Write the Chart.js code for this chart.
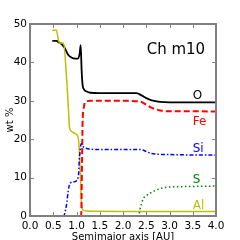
<!DOCTYPE html>
<html>
<head>
<meta charset="utf-8">
<script src="https://cdn.jsdelivr.net/npm/chart.js@4/dist/chart.umd.min.js"></script>
<style>
  html, body { margin: 0; padding: 0; background: #fff; }
  #c { display: block; }
</style>
</head>
<body>
<canvas id="c" width="240" height="240"></canvas>
<script>
// chart of wt % vs semimajor axis, case "Ch m10"

Chart.defaults.font.family = "'DejaVu Sans', sans-serif";
Chart.defaults.font.size = 10;
Chart.defaults.color = '#000';

const xTicks = [0.0, 0.5, 1.0, 1.5, 2.0, 2.5, 3.0, 3.5, 4.0];
const yTicks = [0, 10, 20, 30, 40, 50];

// O (black, solid)
const oX = [0.48, 0.57, 0.62, 0.66, 0.75, 0.82, 0.90, 0.97, 1.03, 1.07, 1.09, 1.11, 1.13, 1.16, 1.22, 1.30, 1.5, 2.0, 2.29, 2.4, 2.5, 2.6, 2.7, 2.8, 3.0, 3.5, 4.0];
const oY = [45.6, 45.6, 45.2, 45.0, 43.7, 42.0, 41.2, 41.0, 41.0, 42.5, 44.5, 38.0, 34.2, 33.0, 32.4, 32.1, 32.0, 32.0, 32.0, 31.4, 30.7, 30.2, 29.9, 29.7, 29.6, 29.6, 29.6];

// Fe (red, dashed)
const feX = [0.5, 1.10, 1.12, 1.13, 1.16, 1.20, 1.30, 2.0, 2.37, 2.5, 2.6, 2.7, 2.8, 2.94, 3.5, 4.0];
const feY = [0, 0, 15, 24, 28.5, 29.8, 30.0, 30.0, 29.8, 29.0, 28.3, 27.8, 27.5, 27.3, 27.3, 27.2];

// Si (blue, dash-dot)
const siX = [0.5, 0.72, 0.75, 0.79, 0.82, 0.86, 0.95, 1.04, 1.06, 1.08, 1.10, 1.15, 1.25, 1.5, 2.0, 2.37, 2.5, 2.6, 2.72, 3.0, 3.5, 4.0];
const siY = [0, 0, 0.8, 3.3, 6.3, 8.5, 8.9, 10.2, 14.6, 17.2, 18.8, 18.0, 17.5, 17.3, 17.3, 17.3, 16.8, 16.3, 16.1, 16.0, 15.9, 15.9];

// S (green, dotted)
const sX = [0.5, 2.33, 2.38, 2.44, 2.5, 2.58, 2.72, 2.94, 3.15, 3.5, 4.0];
const sY = [0, 0, 2.5, 4.6, 5.3, 5.9, 6.8, 7.5, 7.6, 7.7, 7.8];

// Al (olive yellow, solid)
const alX = [0.48, 0.57, 0.60, 0.63, 0.72, 0.79, 0.83, 0.85, 0.88, 0.93, 0.98, 1.02, 1.05, 1.08, 1.10, 1.12, 1.16, 1.22, 2.0, 3.0, 4.0];
const alY = [48.4, 48.4, 46.5, 45.1, 45.0, 35.4, 27.0, 23.0, 22.2, 21.7, 21.4, 21.0, 19.0, 12.0, 5.0, 2.0, 1.4, 1.3, 1.2, 1.2, 1.2];

// in-plot text, data coordinates
const seriesLabels = [
  { text: 'O',  x: 3.5, y: 31.3, color: '#000000' },
  { text: 'Fe', x: 3.5, y: 24.4, color: '#ff0000' },
  { text: 'Si', x: 3.5, y: 17.5, color: '#0000ff' },
  { text: 'S',  x: 3.5, y: 9.3,  color: '#008000' },
  { text: 'Al', x: 3.5, y: 2.6,  color: '#bfbf00' },
];
const caseLabel = { text: 'Ch m10', x: 2.51, y: 43.2 };

function pts(xs, ys) {
  return xs.map((x, i) => ({ x, y: ys[i] }));
}

function line(xs, ys, color, dash, width) {
  return {
    data: pts(xs, ys),
    borderColor: color,
    borderWidth: width || 1.5,
    borderDash: dash || [],
    pointRadius: 0,
    fill: false,
    cubicInterpolationMode: 'monotone',
  };
}

const frameAndText = {
  id: 'frameAndText',
  afterDatasetsDraw(chart) {
    const { ctx, chartArea: a, scales } = chart;
    const xs = scales.x, ys = scales.y;
    ctx.save();
    ctx.strokeStyle = '#808080';
    ctx.lineWidth = 1;
    const tl = 4;
    ctx.beginPath();
    xTicks.forEach(v => {
      const px = Math.round(xs.getPixelForValue(v)) + 0.5;
      ctx.moveTo(px, a.bottom); ctx.lineTo(px, a.bottom - tl);
      ctx.moveTo(px, a.top); ctx.lineTo(px, a.top + tl);
    });
    yTicks.forEach(v => {
      const py = Math.round(ys.getPixelForValue(v)) + 0.5;
      ctx.moveTo(a.left, py); ctx.lineTo(a.left + tl, py);
      ctx.moveTo(a.right, py); ctx.lineTo(a.right - tl, py);
    });
    ctx.stroke();
    ctx.lineWidth = 2;
    ctx.strokeRect(a.left, a.top, a.right - a.left, a.bottom - a.top);

    ctx.textAlign = 'left';
    ctx.textBaseline = 'middle';
    ctx.font = "12px 'DejaVu Sans'";
    seriesLabels.forEach(l => {
      ctx.fillStyle = l.color;
      ctx.fillText(l.text, xs.getPixelForValue(l.x), ys.getPixelForValue(l.y));
    });
    ctx.font = "15px 'DejaVu Sans'";
    ctx.fillStyle = '#000';
    ctx.fillText(caseLabel.text, xs.getPixelForValue(caseLabel.x), ys.getPixelForValue(caseLabel.y));
    ctx.restore();
  }
};

new Chart(document.getElementById('c'), {
  type: 'line',
  data: {
    datasets: [
      line(sX, sY, '#008000', [1.5, 2.5]),
      line(siX, siY, '#0000ff', [4, 2, 1.5, 2]),
      line(feX, feY, '#ff0000', [6, 3], 2),
      line(alX, alY, '#bfbf00', null, 1.5),
      line(oX, oY, '#000000', null, 1.8),
    ]
  },
  options: {
    responsive: false,
    animation: false,
    devicePixelRatio: 1,
    layout: { padding: { top: 24, right: 24, left: 0, bottom: 0 } },
    plugins: { legend: { display: false }, tooltip: { enabled: false } },
    scales: {
      x: {
        type: 'linear',
        min: 0, max: 4,
        afterBuildTicks: s => { s.ticks = xTicks.map(v => ({ value: v })); },
        afterFit: s => { s.height = 24; },
        grid: { display: false, drawTicks: false },
        border: { display: false },
        ticks: { padding: 4, maxRotation: 0, callback: v => v.toFixed(1), font: { size: 10.5 } },
        title: { display: true, text: 'Semimajor axis [AU]', padding: { top: 0, bottom: -3 } },
      },
      y: {
        min: 0, max: 50,
        afterBuildTicks: s => { s.ticks = yTicks.map(v => ({ value: v })); },
        afterFit: s => { s.width = 30; },
        grid: { display: false, drawTicks: false },
        border: { display: false },
        ticks: { padding: 3, font: { size: 10.5 } },
        title: { display: true, text: 'wt %', padding: { top: 4, bottom: 0 } },
      }
    }
  },
  plugins: [frameAndText]
});
</script>
</body>
</html>
